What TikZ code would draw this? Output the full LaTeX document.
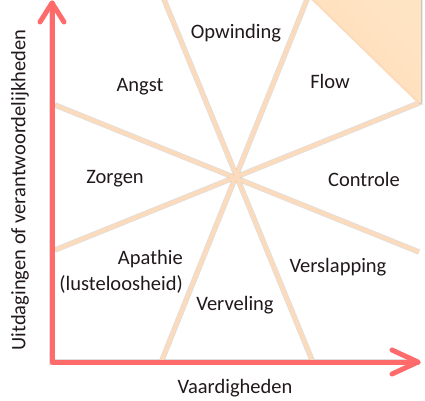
\documentclass[tikz,border=0pt]{standalone}
\usepackage{fontspec}
\setmainfont{Carlito}
\definecolor{axisred}{RGB}{255,107,107}
\definecolor{peach}{RGB}{252,219,188}
\definecolor{peachfill}{RGB}{254,221,186}
\definecolor{peachlight}{RGB}{255,228,196}
\definecolor{txt}{RGB}{32,24,28}
\begin{document}
\begin{tikzpicture}[x=1pt,y=-1pt,
  peachline/.style={draw=peach, line width=4pt},
  shadowline/.style={draw=black, opacity=0.13, line width=5.5pt, shift={(1.6,1.8)}},
  axisline/.style={draw=axisred, line width=5pt, line cap=round, line join=round},
  lbl/.style={text=txt, font=\fontsize{20.5}{26}\selectfont, inner sep=0pt}]
\useasboundingbox (0,0) rectangle (425,400);
% coordinates
\coordinate (c) at (236,177.5);
\coordinate (a1) at (163,-3);
\coordinate (a2) at (312,360);
\coordinate (b1) at (308,-3);
\coordinate (b2) at (162,360);
\coordinate (d1) at (55,105);
\coordinate (d2) at (419,252);
\coordinate (e1) at (55,250);
\coordinate (e2) at (419,103);
\coordinate (o) at (52,362);
\coordinate (ytip) at (52,3);
\coordinate (xtip) at (418,362);
\coordinate (tri1) at (312,-1);
\coordinate (tri2) at (419,103);
\coordinate (tri3) at (421,103);
\coordinate (tri4) at (421,-1);
% top-right filled triangle
\fill[black, opacity=0.13] ([shift={(1.6,1.8)}]tri1) -- ([shift={(1.6,1.8)}]tri2) -- ([shift={(1.6,1.8)}]tri3) -- ([shift={(1.6,0)}]tri4) -- cycle;
\fill[left color=peachfill, right color=peachlight, shading angle=135]
  (tri1) -- (tri2) -- (tri3) -- (tri4) -- cycle;
% shadows
\foreach \p/\q in {a1/a2, b1/b2, d1/d2, e1/e2}{
  \draw[shadowline] (\p) -- (\q);
}
\draw[shadowline, line width=6pt] (ytip) -- (o) -- (xtip);
% peach lines
\draw[peachline] (a1) -- (a2);
\draw[peachline] (b1) -- (b2);
\draw[peachline] (d1) -- (d2);
\draw[peachline] (e1) -- (e2);
\draw[draw=peach, line width=2pt] (tri1) -- (tri2);
% axes
\draw[axisline] (ytip) -- (o) -- (xtip);
\draw[axisline] (ytip) ++(-12,19) -- (ytip) -- ++(12,19);
\draw[axisline] (xtip) ++(-26,-12) -- (xtip) -- ++(-26,12);
% labels
\node[lbl] (opw) at (236,33) {Opwinding};
\node[lbl] (angst) at (140,87) {Angst};
\node[lbl] (flow) at (330,81) {Flow};
\node[lbl] (zorgen) at (115,179) {Zorgen};
\node[lbl] (controle) at (364,179) {Controle};
\node[lbl, align=right, anchor=east] (apathie) at (183,272) {Apathie\\(lusteloosheid)};
\node[lbl] (versl) at (338,267) {Verslapping};
\node[lbl] (verv) at (235,305) {Verveling};
\node[lbl] (xlab) at (235,388) {Vaardigheden};
\node[lbl, rotate=90] (ylab) at (20,190) {Uitdagingen of verantwoordelijkheden};
\end{tikzpicture}
\end{document}
